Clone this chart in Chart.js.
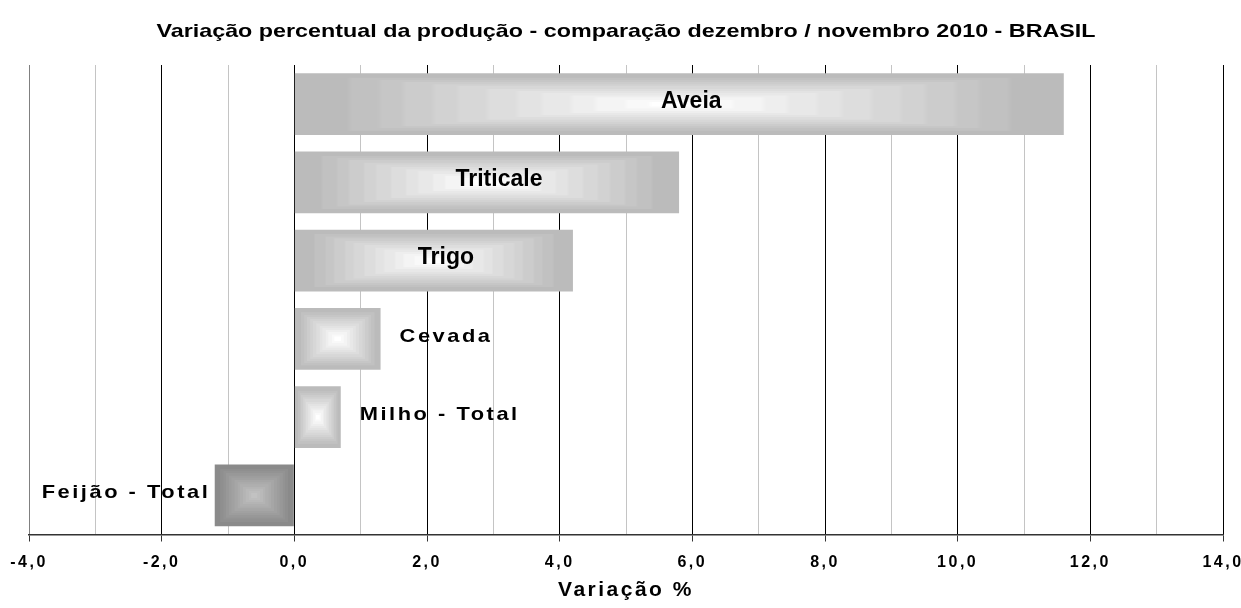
<!DOCTYPE html>
<html>
<head>
<meta charset="utf-8">
<script src="https://cdn.jsdelivr.net/npm/chart.js@4"></script>
<style>
  html, body { margin: 0; padding: 0; background: #fff; }
  #wrap { width: 1241px; height: 608px; }
</style>
</head>
<body>
<div id="wrap"><canvas id="grafico"></canvas></div>
<script>
const categorias = ['Aveia', 'Triticale', 'Trigo', 'Cevada', 'Milho - Total', 'Feijão - Total'];
const variacoes = [11.6, 5.8, 4.2, 1.3, 0.7, -1.2];
const titulo = 'Variação percentual da produção - comparação dezembro / novembro 2010 - BRASIL';
const tituloEixo = 'Variação %';

const fonte = '"Liberation Sans", Arial, sans-serif';

// degradê "do centro" tipo Excel: retângulos concêntricos
const N = 128;
function criaTextura(borda, centro) {
  const c = document.createElement('canvas');
  c.width = N; c.height = N;
  const g = c.getContext('2d');
  const img = g.createImageData(N, N);
  for (let j = 0; j < N; j++) {
    for (let i = 0; i < N; i++) {
      const u = Math.abs((i + 0.5) / N * 2 - 1);
      const v = Math.abs((j + 0.5) / N * 2 - 1);
      let t = Math.max(u, v);
      t = Math.min(1, Math.floor(t * 14) / 12);
      const cor = Math.round(centro + (borda - centro) * t);
      const k = (j * N + i) * 4;
      img.data[k] = img.data[k + 1] = img.data[k + 2] = cor;
      img.data[k + 3] = 255;
    }
  }
  g.putImageData(img, 0, 0);
  return c;
}
const texturaClara = criaTextura(0xbb, 0xff);
const texturaEscura = criaTextura(0x8a, 0xc2);

// o texto do original é "esticado": espaçamento entre letras
const pluginEspaco = {
  id: 'espaco',
  beforeLayout(chart) { chart.ctx.letterSpacing = '2.5px'; },
  beforeDraw(chart) { chart.ctx.letterSpacing = '2.5px'; }
};

// título esticado na horizontal
const pluginTitulo = {
  id: 'tituloLargo',
  afterLayout(chart) {
    const tb = chart.titleBlock;
    if (!tb || tb._largo) return;
    const desenha = tb.draw;
    tb.draw = function () {
      const ctx = this.ctx;
      const cx = (this.left + this.right) / 2;
      ctx.save();
      ctx.letterSpacing = '0px';
      ctx.translate(cx, 0);
      ctx.scale(1.26, 1);
      ctx.translate(-cx, 0);
      desenha.apply(this, arguments);
      ctx.restore();
    };
    tb._largo = true;
  }
};

const pluginDegrade = {
  id: 'degrade',
  beforeDatasetsDraw(chart) {
    const ctx = chart.ctx;
    chart.getDatasetMeta(0).data.forEach((el, i) => {
      const esq = Math.min(el.x, el.base);
      const dir = Math.max(el.x, el.base);
      const topo = el.y - el.height / 2;
      const tex = variacoes[i] < 0 ? texturaEscura : texturaClara;
      const pat = ctx.createPattern(tex, 'repeat');
      pat.setTransform(new DOMMatrix().translate(esq, topo).scale((dir - esq) / N, el.height / N));
      el.options = Object.assign({}, el.options, { backgroundColor: pat });
    });
  }
};

const pluginRotulos = {
  id: 'rotulos',
  afterDatasetsDraw(chart) {
    const ctx = chart.ctx;
    ctx.fillStyle = '#000';
    ctx.textBaseline = 'middle';
    chart.getDatasetMeta(0).data.forEach((el, i) => {
      const v = variacoes[i];
      const y = el.y - 2.5;
      ctx.save();
      if (v > 3) {
        ctx.font = 'bold 23px ' + fonte;
        ctx.letterSpacing = '0px';
        ctx.textAlign = 'center';
        ctx.fillText(categorias[i], (el.x + el.base) / 2 + 12, y);
      } else {
        ctx.font = 'bold 19px ' + fonte;
        ctx.letterSpacing = '2.2px';
        const x = v >= 0 ? el.x + 19 : el.x - 4.5;
        ctx.textAlign = v >= 0 ? 'left' : 'right';
        ctx.translate(x, y);
        ctx.scale(1.15, 1);
        ctx.fillText(categorias[i], 0, 0);
      }
      ctx.restore();
    });
  }
};

new Chart(document.getElementById('grafico'), {
  type: 'bar',
  data: {
    labels: categorias,
    datasets: [{
      data: variacoes,
      backgroundColor: '#bbbbbb',
      borderWidth: 0,
      barPercentage: 0.79,
      categoryPercentage: 1
    }]
  },
  options: {
    indexAxis: 'y',
    responsive: true,
    maintainAspectRatio: false,
    animation: false,
    layout: { padding: { left: 29, right: 18, top: 0, bottom: 0 } },
    plugins: {
      legend: { display: false },
      tooltip: { enabled: false },
      title: {
        display: true,
        text: titulo,
        color: '#000',
        font: { family: fonte, size: 18.5, weight: 'bold' },
        padding: { top: 21, bottom: 21.8 }
      }
    },
    scales: {
      x: {
        min: -4,
        max: 14,
        afterFit(scale) {
          scale.paddingLeft = 0;
          scale.paddingRight = 0;
        },
        grid: {
          color: c => c.tick.value === -4 ? '#808080' : (c.tick.value % 2 === 0 ? '#000' : '#c4c4c4'),
          tickLength: 7,
          tickColor: c => c.tick.value % 2 === 0 ? '#333' : 'rgba(0,0,0,0)'
        },
        border: { display: true, color: '#333', width: 1.5 },
        ticks: {
          stepSize: 1,
          autoSkip: false,
          maxRotation: 0,
          padding: 11.4,
          color: '#000',
          font: { family: fonte, size: 16, weight: 'bold' },
          callback: v => v % 2 === 0 ? v.toFixed(1).replace('.', ',') : ''
        },
        title: {
          display: true,
          text: tituloEixo,
          color: '#000',
          font: { family: fonte, size: 21, weight: 'bold' },
          padding: { top: -5.6, bottom: 4.9 }
        }
      },
      y: {
        display: false
      }
    }
  },
  plugins: [pluginEspaco, pluginTitulo, pluginDegrade, pluginRotulos]
});
</script>
</body>
</html>
